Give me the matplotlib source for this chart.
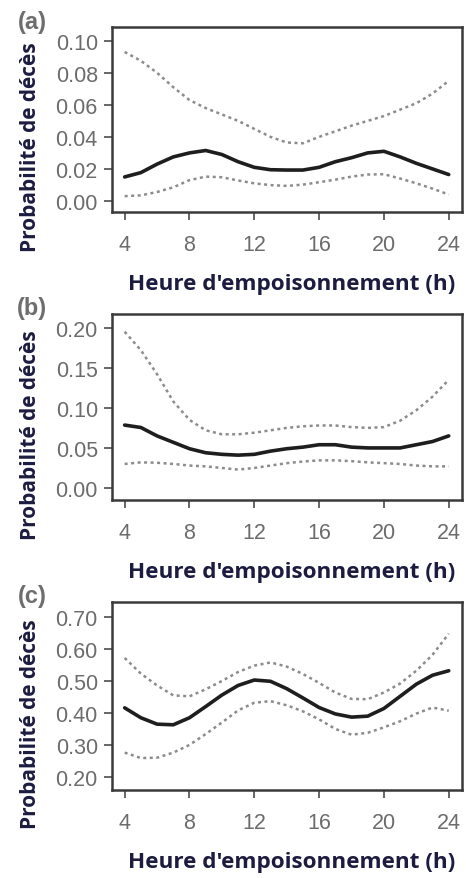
import matplotlib
matplotlib.use("Agg")
import matplotlib.pyplot as plt

# Probabilité de décès selon l'heure d'empoisonnement (estimation + IC)

hours = list(range(4, 25))

# (a)
a_fit = [0.0150, 0.0177, 0.0230, 0.0275, 0.0300, 0.0315, 0.0290, 0.0245, 0.0210, 0.0195, 0.0193,
         0.0193, 0.0210, 0.0245, 0.0270, 0.0300, 0.0310, 0.0275, 0.0235, 0.0200, 0.0165]
a_upper = [0.093, 0.0875, 0.080, 0.071, 0.063, 0.058, 0.054, 0.050, 0.045, 0.040, 0.0365,
           0.036, 0.040, 0.0435, 0.047, 0.050, 0.053, 0.057, 0.061, 0.067, 0.075]
a_lower = [0.0030, 0.0035, 0.0056, 0.0085, 0.0130, 0.0152, 0.0148, 0.0128, 0.0110, 0.0099, 0.0094,
           0.0102, 0.0117, 0.0133, 0.0152, 0.0165, 0.0167, 0.0140, 0.0110, 0.0077, 0.0040]
a_ticks = [0.00, 0.02, 0.04, 0.06, 0.08, 0.10]

# (b)
b_fit = [0.0785, 0.0755, 0.065, 0.057, 0.049, 0.044, 0.042, 0.041, 0.042, 0.046, 0.049,
         0.051, 0.054, 0.054, 0.051, 0.050, 0.050, 0.050, 0.054, 0.058, 0.065]
b_upper = [0.195, 0.172, 0.142, 0.108, 0.085, 0.072, 0.067, 0.067, 0.069, 0.072, 0.075,
           0.077, 0.078, 0.078, 0.076, 0.075, 0.076, 0.084, 0.097, 0.114, 0.135]
b_lower = [0.030, 0.032, 0.0315, 0.030, 0.028, 0.027, 0.025, 0.023, 0.025, 0.028, 0.031,
           0.033, 0.0345, 0.0345, 0.0335, 0.032, 0.031, 0.030, 0.028, 0.027, 0.027]
b_ticks = [0.00, 0.05, 0.10, 0.15, 0.20]

# (c)
c_fit = [0.416, 0.385, 0.365, 0.363, 0.385, 0.420, 0.456, 0.486, 0.503, 0.499, 0.476,
         0.447, 0.417, 0.397, 0.387, 0.390, 0.414, 0.452, 0.490, 0.518, 0.532]
c_upper = [0.572, 0.523, 0.486, 0.455, 0.452, 0.474, 0.500, 0.528, 0.548, 0.558, 0.545,
           0.522, 0.494, 0.464, 0.444, 0.443, 0.464, 0.492, 0.532, 0.582, 0.648]
c_lower = [0.276, 0.259, 0.260, 0.276, 0.300, 0.334, 0.370, 0.408, 0.432, 0.437, 0.424,
           0.405, 0.380, 0.350, 0.332, 0.338, 0.355, 0.374, 0.398, 0.417, 0.407]
c_ticks = [0.20, 0.30, 0.40, 0.50, 0.60, 0.70]

x_ticks = [4, 8, 12, 16, 20, 24]

W, H = 466, 879
fig = plt.figure(figsize=(W / 100, H / 100), dpi=100)

LABEL_COL = "#1c1c40"
TICK_COL = "#6c6c6c"


def px_axes(left, top, right, bottom):
    # axes rectangle from pixel coordinates
    return fig.add_axes([left / W, 1 - bottom / H, (right - left) / W, (bottom - top) / H])


def panel(box, letter, fit, upper, lower, yticks, ylim):
    left, top, right, bottom = box
    ax = px_axes(left, top, right, bottom)
    ax.plot(hours, upper, color="#8c8c8c", lw=1.8, linestyle=(0, (1.2, 1.4)))
    ax.plot(hours, lower, color="#8c8c8c", lw=1.8, linestyle=(0, (1.2, 1.4)))
    ax.plot(hours, fit, color="#1e1e1e", lw=2.6, solid_capstyle="round", solid_joinstyle="round")
    ax.set_xlim(3.2, 24.8)
    ax.set_ylim(*ylim)
    ax.set_xticks(x_ticks)
    ax.set_yticks(yticks)
    ax.set_yticklabels([f"{v:.2f}" for v in yticks])
    ax.tick_params(axis="both", direction="out", length=6, width=1.4, color="#666666",
                   labelcolor=TICK_COL, labelsize=15.5)
    ax.tick_params(axis="x", pad=10)
    ax.tick_params(axis="y", pad=4)
    for lab in ax.get_xticklabels() + ax.get_yticklabels():
        lab.set_family("Liberation Sans")
    for s in ax.spines.values():
        s.set_color("#3a3a3a")
        s.set_linewidth(1.8)

    fig.text(31 / W, 1 - ((top + bottom) / 2 + 27) / H, "Probabilité de décès", rotation=90,
             ha="center", va="center", fontsize=15, fontweight="bold", family="Open Sans",
             color=LABEL_COL)
    fig.text(292 / W, 1 - (bottom + 72) / H, "Heure d'empoisonnement (h)", ha="center",
             va="center", fontsize=16.2, fontweight="bold", family="Open Sans", color=LABEL_COL)
    fig.text(32 / W, 1 - (top - 6) / H, f"({letter})", ha="center", va="center",
             fontsize=17, fontweight="bold", family="Liberation Sans", color="#6e6e6e")
    return ax


panel((111.7, 28.3, 461.7, 212.7), "a", a_fit, a_upper, a_lower, a_ticks, (-0.0067, 0.1084))
panel((111.7, 314.7, 461.7, 500.7), "b", b_fit, b_upper, b_lower, b_ticks, (-0.0146, 0.2175))
panel((111.7, 603.0, 461.7, 790.7), "c", c_fit, c_upper, c_lower, c_ticks, (0.160, 0.747))

fig.savefig("out.png", dpi=100)
